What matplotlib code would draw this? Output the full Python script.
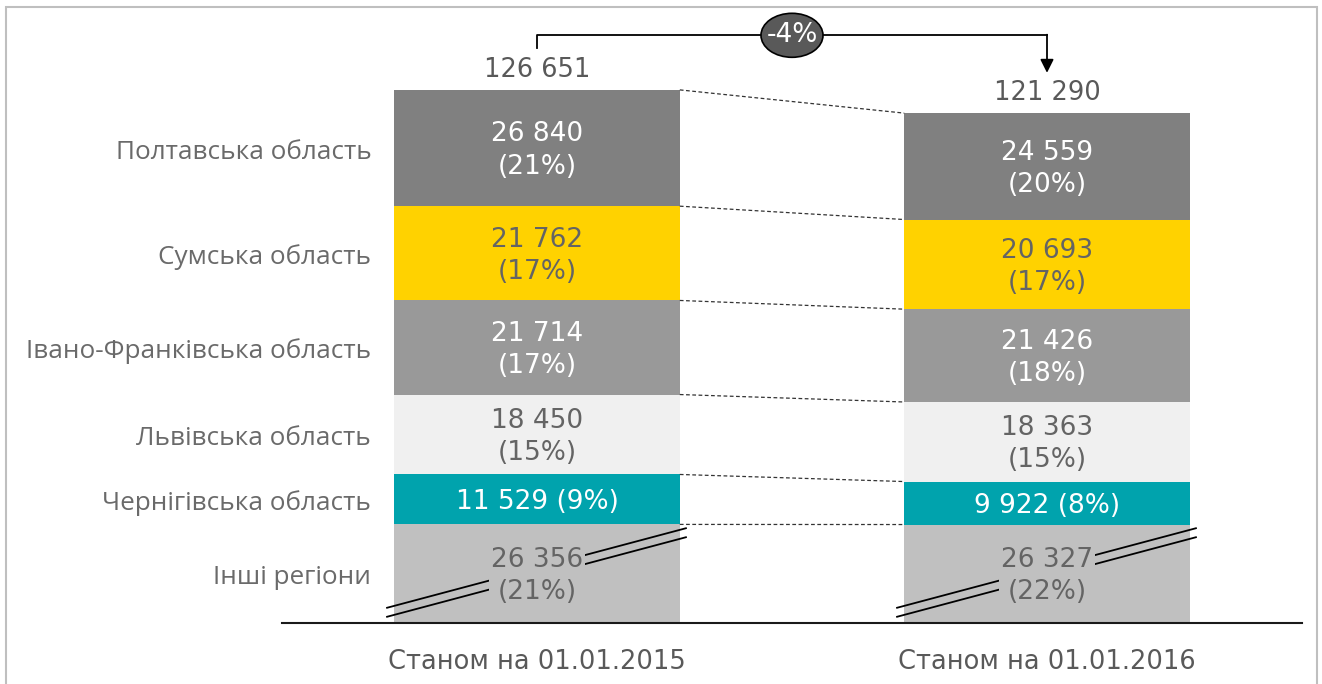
import matplotlib
matplotlib.use("Agg")
import matplotlib.pyplot as plt
from matplotlib.patches import Ellipse, Rectangle

plt.rcParams['font.family'] = ['Open Sans', 'DejaVu Sans']
NUM_FONT = ['DejaVu Sans']

# data (top to bottom)
regions = ['Полтавська область', 'Сумська область', 'Івано-Франківська область',
           'Львівська область', 'Чернігівська область', 'Інші регіони']
values_2015 = [26840, 21762, 21714, 18450, 11529, 26356]
values_2016 = [24559, 20693, 21426, 18363, 9922, 26327]
shares_2015 = [21, 17, 17, 15, 9, 21]
shares_2016 = [20, 17, 18, 15, 8, 22]
totals = [126651, 121290]
change_label = '-4%'
periods = ['Станом на 01.01.2015', 'Станом на 01.01.2016']

colors = ['#808080', '#FFD200', '#999999', '#F0F0F0', '#00A3AD', '#C0C0C0']
text_colors = ['white', '#646464', 'white', '#646464', 'white', '#646464']
break_cut = 3600   # the "other regions" segment is drawn shortened (axis break)

W, H = 1322, 684
fig = plt.figure(figsize=(W / 100, H / 100), dpi=100)
ax = fig.add_axes([282 / W, 61 / H, 1020 / W, 623 / H])
ax.set_xlim(-0.5, 1.5)
ax.set_ylim(0, 143800)
for s in ['top', 'right', 'left']:
    ax.spines[s].set_visible(False)
ax.spines['bottom'].set_color('#1a1a1a')
ax.spines['bottom'].set_linewidth(1.5)
ax.set_yticks([])
ax.set_xticks([0, 1], periods)
ax.tick_params(axis='x', length=0, pad=18.5, labelcolor='#595959')
for t in ax.get_xticklabels():
    t.set_fontfamily(NUM_FONT)
    t.set_fontsize(18.5)

bw = 0.56
fs = 19
px_y = 143800 / 623  # data units per pixel (vertical)
px_x = 1 / 510

bounds = []
for xi, (vals, shares) in enumerate([(values_2015, shares_2015), (values_2016, shares_2016)]):
    bottom = 0
    tops = {}
    for i in range(len(vals) - 1, -1, -1):
        h = vals[i] - break_cut if i == len(vals) - 1 else vals[i]
        ax.bar(xi, h, bottom=bottom, width=bw, color=colors[i], zorder=2)
        num = f"{vals[i]:,}".replace(',', ' ')
        if vals[i] < 12000:
            lab = f"{num} ({shares[i]}%)"
        else:
            lab = f"{num}\n({shares[i]}%)"
        kw = {}
        if i == len(vals) - 1:
            kw['bbox'] = dict(facecolor=colors[i], edgecolor='none', pad=1.5)
        ax.text(xi, bottom + h / 2 - 2.5 * px_y, lab, ha='center', va='center', fontsize=fs,
                family=NUM_FONT, color=text_colors[i], linespacing=1.32, zorder=5, **kw)
        if xi == 0:
            ax.text(-0.325, bottom + h / 2 - 4 * px_y, regions[i], ha='right', va='center',
                    fontsize=18.8, color='#6a6a6a')
        tops[i] = bottom + h
        bottom += h
    bounds.append(tops)

    # break marks
    x0 = xi - bw / 2 - 8 * px_x
    x1 = xi + bw / 2 + 7 * px_x
    for off in (0, 9):
        ax.plot([x0, x1], [(15 - off) * px_y, (95 - off) * px_y], color='black',
                lw=1.3, zorder=4, solid_capstyle='butt')

    ax.annotate(f"{totals[xi]:,}".replace(',', ' '), (xi, bottom), xytext=(0, 5),
                textcoords='offset points', ha='center', va='bottom', fontsize=18.5,
                family=NUM_FONT, color='#595959')

# dashed connectors between segment tops
for i in range(len(regions)):
    ax.plot([bw / 2, 1 - bw / 2], [bounds[0][i], bounds[1][i]], color='#333333',
            lw=0.9, ls=(0, (3, 2)), zorder=3)

# bracket with change
top1 = totals[0] - break_cut
top2 = totals[1] - break_cut
yb = top1 + 12600
ax.plot([0, 0, 1], [top1 + 9600, yb, yb], color='black', lw=1.3, zorder=3, clip_on=False)
ax.annotate('', xy=(1, top2 + 9300), xytext=(1, yb + 150),
            arrowprops=dict(arrowstyle='-|>', color='black', lw=1.3, mutation_scale=20,
                            shrinkA=0, shrinkB=0))
ax.add_patch(Ellipse((0.5, yb), 62 * px_x, 44 * px_y, facecolor='#595959',
                     edgecolor='black', lw=1.2, zorder=6, clip_on=False))
ax.text(0.5, yb, change_label, ha='center', va='center', fontsize=fs, family=NUM_FONT,
        color='white', zorder=7)

# outer frame
fig.add_artist(Rectangle((6 / W, -0.02), 1310.5 / W, (H - 7) / H + 0.02,
                         transform=fig.transFigure, fill=False, edgecolor='#BFBFBF', lw=1.5))

fig.savefig('out.png', dpi=100)
